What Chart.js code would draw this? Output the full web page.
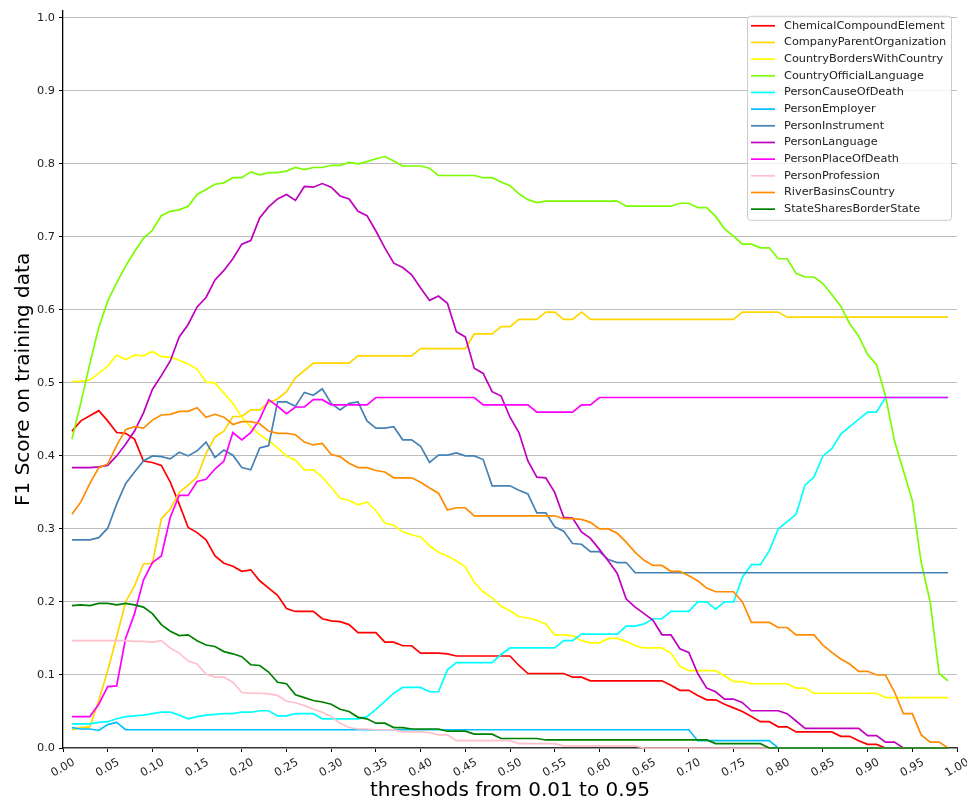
<!DOCTYPE html>
<html>
<head>
<meta charset="utf-8">
<script src="https://cdn.jsdelivr.net/npm/chart.js@4.4.0/dist/chart.umd.min.js"></script>
<style>
  html, body { margin: 0; padding: 0; background: #fff; }
  #wrap { width: 967px; height: 803px; }
</style>
</head>
<body>
<div id="wrap"><canvas id="chart" width="967" height="803"></canvas></div>
<script>
// thresholds on the x axis
const thresholds = [
  0.01, 0.02, 0.03, 0.04, 0.05, 0.06, 0.07, 0.08, 0.09, 0.10,
  0.11, 0.12, 0.13, 0.14, 0.15, 0.16, 0.17, 0.18, 0.19, 0.20,
  0.21, 0.22, 0.23, 0.24, 0.25, 0.26, 0.27, 0.28, 0.29, 0.30,
  0.31, 0.32, 0.33, 0.34, 0.35, 0.36, 0.37, 0.38, 0.39, 0.40,
  0.41, 0.42, 0.43, 0.44, 0.45, 0.46, 0.47, 0.48, 0.49, 0.50,
  0.51, 0.52, 0.53, 0.54, 0.55, 0.56, 0.57, 0.58, 0.59, 0.60,
  0.61, 0.62, 0.63, 0.64, 0.65, 0.66, 0.67, 0.68, 0.69, 0.70,
  0.71, 0.72, 0.73, 0.74, 0.75, 0.76, 0.77, 0.78, 0.79, 0.80,
  0.81, 0.82, 0.83, 0.84, 0.85, 0.86, 0.87, 0.88, 0.89, 0.90,
  0.91, 0.92, 0.93, 0.94, 0.95, 0.96, 0.97, 0.98, 0.99
];

const xTickLabels = ['0.00','0.05','0.10','0.15','0.20','0.25','0.30','0.35','0.40','0.45','0.50',
                     '0.55','0.60','0.65','0.70','0.75','0.80','0.85','0.90','0.95','1.00'];

const seriesNames = [
  'ChemicalCompoundElement', 'CompanyParentOrganization', 'CountryBordersWithCountry',
  'CountryOfficialLanguage', 'PersonCauseOfDeath', 'PersonEmployer', 'PersonInstrument',
  'PersonLanguage', 'PersonPlaceOfDeath', 'PersonProfession', 'RiverBasinsCountry',
  'StateSharesBorderState'
];
const seriesColors = [
  '#ff0000', '#ffd700', '#ffff00', '#7cfc00', '#00ffff', '#00bfff', '#4682b4',
  '#bf00bf', '#ff00ff', '#ffc0cb', '#ff8c00', '#008000'
];

const chemicalCompoundElement = [
  0.434, 0.448, 0.455, 0.462, 0.448, 0.432, 0.431, 0.423, 0.393, 0.391,
  0.387, 0.364, 0.334, 0.302, 0.295, 0.285, 0.263, 0.253, 0.249, 0.242,
  0.244, 0.229, 0.219, 0.209, 0.191, 0.187, 0.187, 0.187, 0.177, 0.174,
  0.173, 0.169, 0.158, 0.158, 0.158, 0.145, 0.145, 0.140, 0.140, 0.130,
  0.130, 0.130, 0.129, 0.126, 0.126, 0.126, 0.126, 0.126, 0.126, 0.126,
  0.113, 0.102, 0.102, 0.102, 0.102, 0.102, 0.097, 0.097, 0.092, 0.092,
  0.092, 0.092, 0.092, 0.092, 0.092, 0.092, 0.092, 0.086, 0.079, 0.079,
  0.072, 0.066, 0.066, 0.060, 0.055, 0.050, 0.043, 0.036, 0.036, 0.029,
  0.029, 0.022, 0.022, 0.022, 0.022, 0.022, 0.016, 0.016, 0.010, 0.005,
  0.005, 0, 0, 0, 0, 0, 0, 0, 0
];
const companyParentOrganization = [
  0.025, 0.028, 0.029, 0.065, 0.106, 0.152, 0.200, 0.222, 0.252, 0.253,
  0.314, 0.327, 0.350, 0.360, 0.371, 0.403, 0.426, 0.434, 0.454, 0.454,
  0.463, 0.463, 0.473, 0.478, 0.488, 0.507, 0.517, 0.527, 0.527, 0.527,
  0.527, 0.527, 0.537, 0.537, 0.537, 0.537, 0.537, 0.537, 0.537, 0.547,
  0.547, 0.547, 0.547, 0.547, 0.547, 0.567, 0.567, 0.567, 0.577, 0.577,
  0.587, 0.587, 0.587, 0.597, 0.597, 0.587, 0.587, 0.597, 0.587, 0.587,
  0.587, 0.587, 0.587, 0.587, 0.587, 0.587, 0.587, 0.587, 0.587, 0.587,
  0.587, 0.587, 0.587, 0.587, 0.587, 0.597, 0.597, 0.597, 0.597, 0.597,
  0.590, 0.590, 0.590, 0.590, 0.590, 0.590, 0.590, 0.590, 0.590, 0.590,
  0.590, 0.590, 0.590, 0.590, 0.590, 0.590, 0.590, 0.590, 0.590
];
const countryBordersWithCountry = [
  0.502, 0.502, 0.504, 0.513, 0.523, 0.538, 0.532, 0.538, 0.537, 0.543,
  0.536, 0.535, 0.531, 0.526, 0.519, 0.501, 0.500, 0.486, 0.472, 0.453,
  0.440, 0.429, 0.421, 0.411, 0.400, 0.394, 0.381, 0.381, 0.371, 0.357,
  0.342, 0.339, 0.333, 0.337, 0.325, 0.308, 0.305, 0.296, 0.292, 0.289,
  0.277, 0.268, 0.263, 0.256, 0.248, 0.227, 0.214, 0.206, 0.194, 0.188,
  0.180, 0.178, 0.175, 0.170, 0.155, 0.155, 0.154, 0.147, 0.144, 0.144,
  0.150, 0.150, 0.146, 0.140, 0.137, 0.137, 0.137, 0.130, 0.112, 0.106,
  0.106, 0.106, 0.106, 0.099, 0.091, 0.091, 0.088, 0.088, 0.088, 0.088,
  0.088, 0.082, 0.082, 0.075, 0.075, 0.075, 0.075, 0.075, 0.075, 0.075,
  0.075, 0.069, 0.069, 0.069, 0.069, 0.069, 0.069, 0.069, 0.069
];
const countryOfficialLanguage = [
  0.423, 0.473, 0.526, 0.576, 0.612, 0.637, 0.660, 0.680, 0.698, 0.709,
  0.729, 0.735, 0.737, 0.742, 0.758, 0.765, 0.772, 0.774, 0.781, 0.781,
  0.789, 0.785, 0.788, 0.788, 0.790, 0.795, 0.792, 0.795, 0.795, 0.798,
  0.798, 0.802, 0.800, 0.803, 0.807, 0.810, 0.804, 0.797, 0.797, 0.797,
  0.794, 0.784, 0.784, 0.784, 0.784, 0.784, 0.781, 0.781, 0.775, 0.770,
  0.759, 0.751, 0.747, 0.749, 0.749, 0.749, 0.749, 0.749, 0.749, 0.749,
  0.749, 0.749, 0.742, 0.742, 0.742, 0.742, 0.742, 0.742, 0.746, 0.746,
  0.740, 0.740, 0.728, 0.711, 0.701, 0.690, 0.690, 0.685, 0.685, 0.670,
  0.670, 0.650, 0.645, 0.645, 0.636, 0.621, 0.605, 0.581, 0.564, 0.539,
  0.525, 0.482, 0.421, 0.380, 0.339, 0.254, 0.200, 0.102, 0.092
];
const personCauseOfDeath = [
  0.033, 0.033, 0.033, 0.035, 0.036, 0.040, 0.043, 0.044, 0.045, 0.047,
  0.049, 0.049, 0.045, 0.040, 0.043, 0.045, 0.046, 0.047, 0.047, 0.049,
  0.049, 0.051, 0.051, 0.044, 0.044, 0.047, 0.047, 0.047, 0.040, 0.040,
  0.040, 0.040, 0.040, 0.043, 0.053, 0.064, 0.075, 0.083, 0.083, 0.083,
  0.077, 0.077, 0.107, 0.117, 0.117, 0.117, 0.117, 0.117, 0.128, 0.137,
  0.137, 0.137, 0.137, 0.137, 0.137, 0.147, 0.147, 0.156, 0.156, 0.156,
  0.156, 0.156, 0.167, 0.167, 0.170, 0.177, 0.177, 0.187, 0.187, 0.187,
  0.200, 0.200, 0.190, 0.200, 0.200, 0.234, 0.251, 0.251, 0.270, 0.300,
  0.310, 0.320, 0.360, 0.371, 0.400, 0.410, 0.430, 0.440, 0.450, 0.460,
  0.460, 0.480, 0.480, 0.480, 0.480, 0.480, 0.480, 0.480, 0.480
];
const personEmployer = [
  0.028, 0.026, 0.026, 0.024, 0.032, 0.035, 0.025, 0.025, 0.025, 0.025,
  0.025, 0.025, 0.025, 0.025, 0.025, 0.025, 0.025, 0.025, 0.025, 0.025,
  0.025, 0.025, 0.025, 0.025, 0.025, 0.025, 0.025, 0.025, 0.025, 0.025,
  0.025, 0.025, 0.025, 0.025, 0.025, 0.025, 0.025, 0.025, 0.025, 0.025,
  0.025, 0.025, 0.025, 0.025, 0.025, 0.025, 0.025, 0.025, 0.025, 0.025,
  0.025, 0.025, 0.025, 0.025, 0.025, 0.025, 0.025, 0.025, 0.025, 0.025,
  0.025, 0.025, 0.025, 0.025, 0.025, 0.025, 0.025, 0.025, 0.025, 0.025,
  0.010, 0.010, 0.010, 0.010, 0.010, 0.010, 0.010, 0.010, 0.010, 0,
  0, 0, 0, 0, 0, 0, 0, 0, 0, 0,
  0, 0, 0, 0, 0, 0, 0, 0, 0
];
const personInstrument = [
  0.285, 0.285, 0.285, 0.288, 0.301, 0.334, 0.362, 0.378, 0.393, 0.400,
  0.399, 0.396, 0.405, 0.400, 0.407, 0.419, 0.398, 0.408, 0.401, 0.384,
  0.381, 0.411, 0.414, 0.474, 0.474, 0.468, 0.487, 0.483, 0.492, 0.472,
  0.463, 0.472, 0.474, 0.448, 0.438, 0.438, 0.440, 0.422, 0.422, 0.413,
  0.391, 0.401, 0.401, 0.404, 0.400, 0.400, 0.395, 0.359, 0.359, 0.359,
  0.353, 0.348, 0.322, 0.322, 0.303, 0.297, 0.280, 0.279, 0.269, 0.269,
  0.258, 0.254, 0.254, 0.240, 0.240, 0.240, 0.240, 0.240, 0.240, 0.240,
  0.240, 0.240, 0.240, 0.240, 0.240, 0.240, 0.240, 0.240, 0.240, 0.240,
  0.240, 0.240, 0.240, 0.240, 0.240, 0.240, 0.240, 0.240, 0.240, 0.240,
  0.240, 0.240, 0.240, 0.240, 0.240, 0.240, 0.240, 0.240, 0.240
];
const personLanguage = [
  0.384, 0.384, 0.384, 0.385, 0.387, 0.400, 0.416, 0.434, 0.459, 0.491,
  0.510, 0.530, 0.563, 0.580, 0.604, 0.617, 0.641, 0.654, 0.670, 0.690,
  0.695, 0.726, 0.741, 0.752, 0.758, 0.750, 0.769, 0.768, 0.773, 0.768,
  0.756, 0.752, 0.735, 0.729, 0.708, 0.685, 0.664, 0.658, 0.648, 0.630,
  0.613, 0.619, 0.609, 0.570, 0.563, 0.520, 0.513, 0.488, 0.482, 0.453,
  0.432, 0.393, 0.371, 0.370, 0.350, 0.316, 0.315, 0.296, 0.287, 0.272,
  0.256, 0.239, 0.204, 0.193, 0.184, 0.175, 0.155, 0.155, 0.136, 0.131,
  0.102, 0.082, 0.077, 0.067, 0.067, 0.062, 0.051, 0.051, 0.051, 0.051,
  0.047, 0.037, 0.027, 0.027, 0.027, 0.027, 0.027, 0.027, 0.027, 0.017,
  0.017, 0.008, 0.008, 0, 0, 0, 0, 0, 0
];
const personPlaceOfDeath = [
  0.043, 0.043, 0.043, 0.060, 0.084, 0.085, 0.150, 0.184, 0.230, 0.254,
  0.263, 0.316, 0.346, 0.346, 0.365, 0.368, 0.382, 0.393, 0.432, 0.422,
  0.432, 0.450, 0.477, 0.468, 0.458, 0.467, 0.467, 0.477, 0.477, 0.470,
  0.470, 0.470, 0.470, 0.470, 0.480, 0.480, 0.480, 0.480, 0.480, 0.480,
  0.480, 0.480, 0.480, 0.480, 0.480, 0.480, 0.470, 0.470, 0.470, 0.470,
  0.470, 0.470, 0.460, 0.460, 0.460, 0.460, 0.460, 0.470, 0.470, 0.480,
  0.480, 0.480, 0.480, 0.480, 0.480, 0.480, 0.480, 0.480, 0.480, 0.480,
  0.480, 0.480, 0.480, 0.480, 0.480, 0.480, 0.480, 0.480, 0.480, 0.480,
  0.480, 0.480, 0.480, 0.480, 0.480, 0.480, 0.480, 0.480, 0.480, 0.480,
  0.480, 0.480, 0.480, 0.480, 0.480, 0.480, 0.480, 0.480, 0.480
];
const personProfession = [
  0.147, 0.147, 0.147, 0.147, 0.147, 0.147, 0.147, 0.146, 0.146, 0.145,
  0.147, 0.137, 0.130, 0.119, 0.115, 0.101, 0.097, 0.097, 0.090, 0.076,
  0.075, 0.075, 0.074, 0.072, 0.064, 0.062, 0.058, 0.053, 0.049, 0.043,
  0.034, 0.028, 0.026, 0.026, 0.025, 0.025, 0.025, 0.022, 0.022, 0.022,
  0.021, 0.018, 0.018, 0.010, 0.010, 0.010, 0.010, 0.010, 0.010, 0.010,
  0.006, 0.006, 0.006, 0.006, 0.006, 0.003, 0.003, 0.003, 0.003, 0.003,
  0.003, 0.003, 0.003, 0.003, 0, 0, 0, 0, 0, 0,
  0, 0, 0, 0, 0, 0, 0, 0, 0, 0,
  0, 0, 0, 0, 0, 0, 0, 0, 0, 0,
  0, 0, 0, 0, 0, 0, 0, 0, 0
];
const riverBasinsCountry = [
  0.320, 0.337, 0.362, 0.384, 0.389, 0.414, 0.436, 0.440, 0.438, 0.449,
  0.456, 0.457, 0.461, 0.461, 0.466, 0.453, 0.457, 0.453, 0.443, 0.447,
  0.447, 0.444, 0.434, 0.431, 0.431, 0.429, 0.419, 0.415, 0.417, 0.402,
  0.399, 0.390, 0.384, 0.384, 0.380, 0.378, 0.370, 0.370, 0.370, 0.364,
  0.356, 0.349, 0.326, 0.329, 0.329, 0.318, 0.318, 0.318, 0.318, 0.318,
  0.318, 0.318, 0.318, 0.318, 0.318, 0.314, 0.314, 0.313, 0.309, 0.300,
  0.300, 0.294, 0.282, 0.268, 0.257, 0.250, 0.250, 0.242, 0.242, 0.236,
  0.229, 0.219, 0.214, 0.214, 0.214, 0.200, 0.172, 0.172, 0.172, 0.165,
  0.165, 0.155, 0.155, 0.155, 0.141, 0.131, 0.122, 0.115, 0.105, 0.105,
  0.100, 0.100, 0.077, 0.047, 0.047, 0.018, 0.008, 0.008, 0
];
const stateSharesBorderState = [
  0.195, 0.196, 0.195, 0.198, 0.198, 0.196, 0.198, 0.196, 0.193, 0.184,
  0.169, 0.160, 0.154, 0.155, 0.147, 0.141, 0.139, 0.132, 0.129, 0.125,
  0.114, 0.113, 0.104, 0.090, 0.088, 0.073, 0.069, 0.065, 0.063, 0.060,
  0.053, 0.050, 0.042, 0.040, 0.034, 0.034, 0.028, 0.028, 0.026, 0.026,
  0.026, 0.026, 0.023, 0.023, 0.023, 0.019, 0.019, 0.019, 0.013, 0.013,
  0.013, 0.013, 0.013, 0.011, 0.011, 0.011, 0.011, 0.011, 0.011, 0.011,
  0.011, 0.011, 0.011, 0.011, 0.011, 0.011, 0.011, 0.011, 0.011, 0.011,
  0.011, 0.011, 0.006, 0.006, 0.006, 0.006, 0.006, 0.006, 0, 0,
  0, 0, 0, 0, 0, 0, 0, 0, 0, 0,
  0, 0, 0, 0, 0, 0, 0, 0, 0
];

const seriesValues = [
  chemicalCompoundElement, companyParentOrganization, countryBordersWithCountry,
  countryOfficialLanguage, personCauseOfDeath, personEmployer, personInstrument,
  personLanguage, personPlaceOfDeath, personProfession, riverBasinsCountry,
  stateSharesBorderState
];

const FONT = '"DejaVu Sans", Verdana, sans-serif';

// legend box drawn inside the plot, top right (like matplotlib's)
const insideLegend = {
  id: 'insideLegend',
  afterDraw(chart) {
    const ctx = chart.ctx;
    const area = chart.chartArea;
    const w = 204, h = 204;
    const x0 = area.right - 210, y0 = area.top + 5;
    ctx.save();
    ctx.beginPath();
    ctx.roundRect(x0 + 0.5, y0 + 0.5, w, h, 3);
    ctx.fillStyle = 'rgba(255,255,255,0.8)';
    ctx.fill();
    ctx.strokeStyle = '#cccccc';
    ctx.lineWidth = 1;
    ctx.stroke();
    ctx.font = '11.3px ' + FONT;
    ctx.textBaseline = 'middle';
    ctx.textAlign = 'left';
    seriesNames.forEach((name, k) => {
      const y = y0 + 10 + k * 16.67;
      ctx.strokeStyle = seriesColors[k];
      ctx.lineWidth = 1.7;
      ctx.beginPath();
      ctx.moveTo(x0 + 4, y);
      ctx.lineTo(x0 + 28, y);
      ctx.stroke();
      ctx.fillStyle = '#222';
      ctx.fillText(name, x0 + 37, y);
    });
    ctx.restore();
  }
};

// rotated x tick labels, centred on their ticks
const xLabels = {
  id: 'xLabels',
  afterDraw(chart) {
    const ctx = chart.ctx;
    const xs = chart.scales.x;
    const base = chart.chartArea.bottom;
    ctx.save();
    ctx.font = '11.3px ' + FONT;
    ctx.fillStyle = '#222';
    ctx.textAlign = 'center';
    ctx.textBaseline = 'middle';
    xTickLabels.forEach(lab => {
      const px = xs.getPixelForValue(parseFloat(lab));
      ctx.save();
      ctx.translate(px, base + 20);
      ctx.rotate(-30 * Math.PI / 180);
      ctx.fillText(lab, 0, 0);
      ctx.restore();
    });
    ctx.restore();
  }
};

const datasets = seriesNames.map((name, k) => ({
  label: name,
  data: thresholds.map((t, i) => ({ x: t, y: seriesValues[k][i] })),
  borderColor: seriesColors[k],
  backgroundColor: seriesColors[k],
  borderWidth: 1.7,
  pointRadius: 0,
  fill: false,
  tension: 0,
  clip: 4,
  order: seriesNames.length - 1 - k   // later series on top
}));

new Chart(document.getElementById('chart'), {
  type: 'line',
  data: { datasets },
  options: {
    responsive: false,
    devicePixelRatio: 1,
    animation: false,
    layout: { padding: { top: 5, right: 10, left: 0, bottom: 0 } },
    plugins: {
      legend: { display: false },
      tooltip: { enabled: false }
    },
    scales: {
      x: {
        type: 'linear',
        min: 0,
        max: 1,
        ticks: { display: false, stepSize: 0.05 },
        grid: { drawOnChartArea: false, drawTicks: true, tickLength: 4, tickColor: '#000' },
        border: { color: '#333', width: 1.3 },
        title: {
          display: true,
          text: 'threshods from 0.01 to 0.95',
          color: '#000',
          font: { size: 20, family: FONT },
          padding: { top: 0, bottom: 0 }
        },
        afterFit: s => { s.height = 55; }
      },
      y: {
        min: 0,
        max: 1.0096,
        ticks: {
          stepSize: 0.1,
          includeBounds: false,
          color: '#222',
          font: { size: 11.3, family: FONT },
          padding: 4,
          callback: v => v.toFixed(1)
        },
        grid: { color: '#bdbdbd', lineWidth: 1, tickLength: 4, tickColor: '#000' },
        border: { color: '#000', width: 1.3 },
        title: {
          display: true,
          text: 'F1 Score on training data',
          color: '#000',
          font: { size: 20, family: FONT },
          padding: { top: 12, bottom: 0 }
        },
        afterFit: s => { s.width = 63; }
      }
    }
  },
  plugins: [insideLegend, xLabels]
});
</script>
</body>
</html>
